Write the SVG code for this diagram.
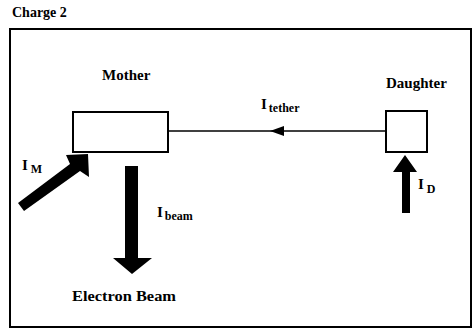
<svg xmlns="http://www.w3.org/2000/svg" width="473" height="330" viewBox="0 0 473 330">
<style>
text{font-family:"Liberation Serif","Times New Roman",serif;font-weight:bold;fill:#000}
.lbl{font-size:15px}
.sub{font-size:12px}
.box{fill:#fff;stroke:#000;stroke-width:2}
</style>
<rect width="473" height="330" fill="#fff"/>
<text x="12" y="17" font-size="14">Charge 2</text>
<rect x="10" y="29" width="461" height="298" fill="none" stroke="#000" stroke-width="2"/>
<g id="mother">
<rect class="box" x="73" y="112" width="95" height="40"/>
<text x="102" y="80" class="lbl">Mother</text>
</g>
<g id="daughter">
<rect class="box" x="386" y="111" width="41" height="41"/>
<text x="386" y="88" class="lbl">Daughter</text>
</g>
<g id="electron-beam">
<text x="72" y="301" class="lbl" textLength="104" lengthAdjust="spacingAndGlyphs">Electron Beam</text>
</g>
<g id="connectors">
<line x1="168" y1="131" x2="386" y2="131" stroke="#000" stroke-width="1.5"/>
<polygon points="270,131 284,126 284,136" fill="#000"/>
<polygon points="24,211 18,203 70,164 66,155 88,154 89,177 80,171" fill="#000"/>
<polygon points="125,166 138,166 138,258 152,258 132,274 113,258 125,258" fill="#000"/>
<polygon points="402,213 410,213 410,172 417,172 405,155 393,172 402,172" fill="#000"/>
<text x="261" y="109" class="lbl">I<tspan class="sub" dx="2" dy="3">tether</tspan></text>
<text x="22" y="170" class="lbl">I<tspan class="sub" dx="3" dy="3" font-size="13">M</tspan></text>
<text x="157" y="217" class="lbl">I<tspan class="sub" dx="2" dy="3">beam</tspan></text>
<text x="418" y="189" class="lbl">I<tspan class="sub" dx="3" dy="4" font-size="13">D</tspan></text>
</g>
</svg>
